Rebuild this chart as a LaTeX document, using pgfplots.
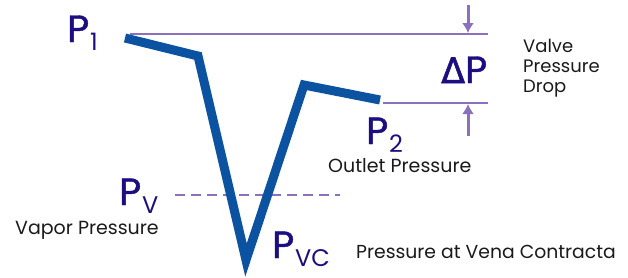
\documentclass[border=0pt]{standalone}
\usepackage{pgfplots}
\pgfplotsset{compat=1.18}
\usetikzlibrary{arrows.meta}
\usepackage{fontspec}
\setmainfont{Poppins}
\newfontfamily\pfont{Poppins}[FakeBold=1.2]
\newfontfamily\greekfont{DejaVu Sans}[FakeBold=1.5]
\definecolor{flow}{HTML}{0B52A1}
\definecolor{refl}{HTML}{8A70BE}
\definecolor{lab}{HTML}{1C0E80}
\definecolor{txt}{HTML}{1A1A1A}
\newcommand{\bigP}[1]{{\pfont\fontsize{38}{38}\selectfont P}\kern1pt\lower8pt\hbox{\fontsize{24}{24}\selectfont #1}}
\begin{document}
\begin{tikzpicture}
\begin{axis}[scale only axis, width=628pt, height=277pt,
  xmin=0, xmax=628, ymin=0, ymax=277, y dir=reverse,
  axis lines=none, clip=false]
\addplot[refl, line width=2pt] coordinates {(130,34) (488,34)};
\addplot[refl, line width=2pt] coordinates {(383,103) (488,103)};
\addplot[refl, line width=2pt, dash pattern=on 10pt off 6pt] coordinates {(175,195) (340,195)};
\addplot[refl, line width=3pt, -{Latex[length=10pt,width=12pt]}] coordinates {(468,5) (468,33)};
\addplot[refl, line width=3pt, -{Latex[length=10pt,width=12pt]}] coordinates {(468,136) (468,104)};
\addplot[flow, line width=9pt, line join=miter] coordinates {(125,38) (198,56) (246,260) (304,85) (380,100)};
% labels
\node[lab, anchor=base west, inner sep=0pt] at (axis cs:67,42) {\bigP{1}};
\node[lab, anchor=base west, inner sep=0pt] at (axis cs:441,83) {{\greekfont\fontsize{35}{35}\selectfont Δ}{\pfont\fontsize{38}{38}\selectfont P}};
\node[txt, anchor=base west, inner sep=0pt, font=\fontsize{18}{20}\selectfont] at (axis cs:523,52) {Valve};
\node[txt, anchor=base west, inner sep=0pt, font=\fontsize{18}{20}\selectfont] at (axis cs:523,72) {Pressure};
\node[txt, anchor=base west, inner sep=0pt, font=\fontsize{18}{20}\selectfont] at (axis cs:523,92) {Drop};
\node[lab, anchor=base west, inner sep=0pt] at (axis cs:366,144) {\bigP{2}};
\node[txt, anchor=base west, inner sep=0pt, font=\fontsize{19}{20}\selectfont] at (axis cs:328,172) {Outlet Pressure};
\node[lab, anchor=base west, inner sep=0pt] at (axis cs:119,205) {\bigP{V}};
\node[txt, anchor=base west, inner sep=0pt, font=\fontsize{19}{20}\selectfont] at (axis cs:15,234) {Vapor Pressure};
\node[lab, anchor=base west, inner sep=0pt] at (axis cs:272,258) {\bigP{VC}};
\node[txt, anchor=base west, inner sep=0pt, font=\fontsize{18.8}{20}\selectfont] at (axis cs:356,258) {Pressure at Vena Contracta};
\end{axis}
\pgfresetboundingbox
\path (current axis.south west) rectangle (current axis.north east);
\end{tikzpicture}
\end{document}
